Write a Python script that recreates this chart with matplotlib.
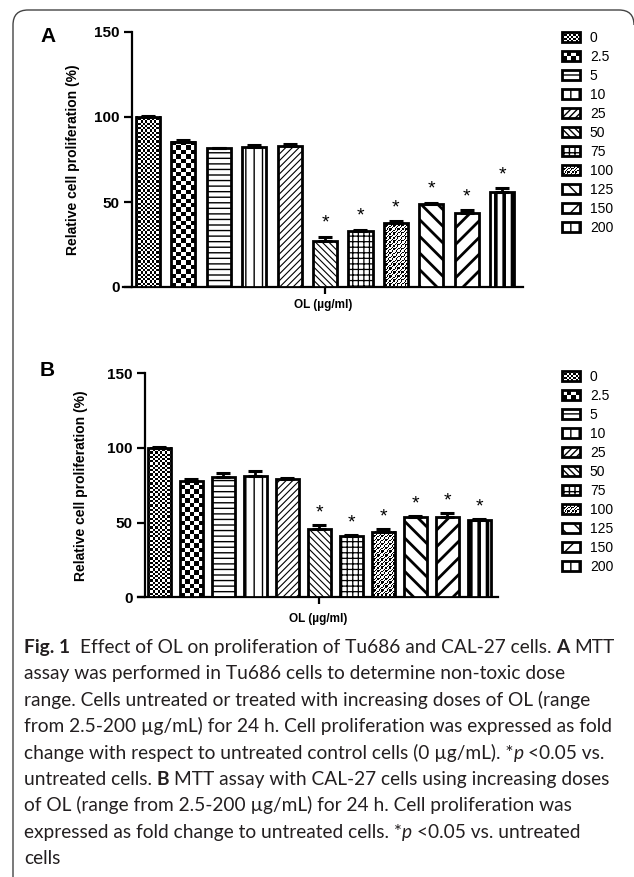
import numpy as np
import matplotlib
matplotlib.use('Agg')
import matplotlib.pyplot as plt
from matplotlib.patches import Patch, PathPatch, Rectangle
from matplotlib.path import Path
from matplotlib.legend_handler import HandlerBase

# data
doses = ['0', '2.5', '5', '10', '25', '50', '75', '100', '125', '150', '200']
prolif_a = [100, 85.5, 81.5, 82.5, 83, 27, 33, 37.5, 49, 43.5, 56]
err_a = [0.8, 1.0, 0.4, 1.2, 1.2, 2.5, 0.8, 1.2, 0.5, 1.5, 2.0]
signif_a = [False, False, False, False, False, True, True, True, True, True, True]
prolif_b = [100, 78, 80.5, 81.5, 79, 45.5, 41, 44, 53.5, 54, 51.5]
err_b = [0.5, 1.5, 3.0, 3.0, 1.2, 3.0, 0.5, 2.0, 0.8, 2.7, 1.2]
signif_b = [False, False, False, False, False, True, True, True, True, True, True]

# fill style per dose: matplotlib hatch string, or a bitmap pattern ('check', 'weave')
fills = ['check', 'check', '---', '||', '/////', '\\\\\\\\\\', '+++', 'weave', '\\\\', '//', '||']
cell_px = [2.2, 4.4, 0, 0, 0, 0, 0, 1.3, 0, 0, 0]
hatch_lw = [0.8, 2.4, 1.0, 1.0, 0.8, 0.8, 0.9, 0.8, 2.0, 2.0, 2.6]
BITMAPS = ('check', 'weave')

W, H = 634, 877
fig = plt.figure(figsize=(W / 100, H / 100), dpi=100)
plt.rcParams['font.family'] = ['Liberation Sans', 'DejaVu Sans']


def px(x, y):
    # pixel (from top-left) -> figure fraction
    return x / W, 1 - y / H


def bitmap(kind, ny, nx):
    r, c = np.indices((ny, nx))
    if kind == 'check':
        return ((r + c) % 2 == 0).astype(float)
    return (((c - r) % 3 == 0) | (((c + r) % 6 == 0) & ((c - r) % 6 < 3))).astype(float)


def hatched(factory, hatch, lw):
    with plt.rc_context({'hatch.linewidth': lw}):
        art = factory(hatch)
        try:
            art.set_hatch_linewidth(lw)
        except AttributeError:
            pass
    return art


def bitmap_bar(ax, kind, xc, h, w, cell):
    p0 = ax.transData.transform((xc - w / 2, 0))
    p1 = ax.transData.transform((xc + w / 2, h))
    nx = max(1, int(round((p1[0] - p0[0]) / cell)))
    ny = max(1, int(round((p1[1] - p0[1]) / cell)))
    ax.imshow(bitmap(kind, ny, nx), extent=(xc - w / 2, xc + w / 2, 0, h), cmap='gray_r',
              vmin=0, vmax=1, origin='lower', interpolation='nearest', aspect='auto', zorder=3)


class HandlerBitmap(HandlerBase):
    def __init__(self, kind, cell):
        super().__init__()
        self.kind = kind
        self.cell = cell

    def create_artists(self, legend, orig_handle, xdescent, ydescent, width, height, fontsize, trans):
        nx = max(1, int(round(width / self.cell)))
        ny = max(1, int(round(height / self.cell)))
        cw, ch = width / nx, height / ny
        img = bitmap(self.kind, ny, nx)
        arts = []
        for r in range(ny):
            for c in range(nx):
                if img[r, c]:
                    arts.append(Rectangle((-xdescent + c * cw, -ydescent + r * ch), cw, ch,
                                          facecolor='black', edgecolor='none', transform=trans))
        arts.append(Rectangle((-xdescent, -ydescent), width, height, facecolor='none',
                              edgecolor='black', linewidth=2.0, transform=trans))
        return arts


def draw_panel(rect, values, errs, sig, xlim, yspine, bar_w, ylab_x, xlab_y):
    ax = fig.add_axes(rect)
    ax.set_xlim(*xlim)
    ax.set_ylim(0, 150)
    x = np.arange(len(values))
    for i in x:
        if fills[i] in BITMAPS:
            bitmap_bar(ax, fills[i], x[i], values[i], bar_w, cell_px[i])
            ax.bar(x[i], values[i], width=bar_w, facecolor='none', edgecolor='black',
                   linewidth=2.0, zorder=3.5)
        else:
            hatched(lambda h: ax.bar(x[i], values[i], width=bar_w, facecolor='white',
                                     edgecolor='black', linewidth=2.0, hatch=h, zorder=3)[0],
                    fills[i], hatch_lw[i])
        ax.errorbar(x[i], values[i], yerr=[[0], [errs[i]]], fmt='none', ecolor='black',
                    elinewidth=2, capsize=5, capthick=2.2, zorder=4)
        if sig[i]:
            ax.text(x[i], values[i] + errs[i] + 8, '*', ha='center', va='center', fontsize=14)
    ax.set_xlim(*xlim)
    ax.set_ylim(0, 150)
    ax.set_yticks([0, 50, 100, 150])
    ax.set_xticks([5])
    ax.set_xticklabels([''])
    for s in ['top', 'right']:
        ax.spines[s].set_visible(False)
    ax.spines['left'].set_position(('data', yspine))
    ax.spines['left'].set_linewidth(1.6)
    ax.spines['bottom'].set_linewidth(1.6)
    ax.tick_params(axis='y', length=6, width=1.6, labelsize=11, pad=3)
    ax.tick_params(axis='x', length=5, width=1.6)
    for t in ax.get_yticklabels():
        t.set_fontweight('bold')
    ax.set_ylabel('Relative cell proliferation (%)', fontsize=10, fontweight='bold')
    ax.yaxis.set_label_coords(ylab_x, 0.5)
    ax.set_xlabel('OL (µg/ml)', fontsize=8.5, fontweight='bold')
    ax.xaxis.set_label_coords(0.5, xlab_y)
    ax.patch.set_visible(False)
    return ax


ax_a = draw_panel([123 / W, 1 - 287 / H, 400 / W, 255 / H], prolif_a, err_a, signif_a,
                  (-0.706, 10.59), -0.45, 0.68, -0.1075, -0.047)
ax_b = draw_panel([138 / W, 1 - 597.3 / H, 360 / W, 224 / H], prolif_b, err_b, signif_b,
                  (-0.67, 10.58), -0.45, 0.72, -0.139, -0.07)

fig.text(*px(40, 37), 'A', fontsize=15, fontweight='bold', va='center', ha='left')
fig.text(*px(40, 371), 'B', fontsize=15, fontweight='bold', va='center', ha='left')

# legends
for top in [31, 370]:
    handles, hmap = [], {}
    for i, d in enumerate(doses):
        if fills[i] in BITMAPS:
            p = Patch(facecolor='white', edgecolor='black', linewidth=2.0)
            hmap[p] = HandlerBitmap(fills[i], cell_px[i] * 0.72)
        else:
            p = hatched(lambda h: Patch(facecolor='white', edgecolor='black',
                                        linewidth=2.0, hatch=h), fills[i], hatch_lw[i] * 0.6)
        handles.append(p)
    fig.legend(handles=handles, labels=doses, handler_map=hmap, loc='upper left',
               bbox_to_anchor=px(562, top), frameon=False, fontsize=10, handlelength=1.3,
               handleheight=0.72, handletextpad=0.7, labelspacing=0.36, borderpad=0,
               borderaxespad=0)

# frame of the figure box
verts = [px(13, 890), px(13, 25), px(13, 10), px(28, 10), px(619, 10), px(634, 10), px(634, 25)]
codes = [Path.MOVETO, Path.LINETO, Path.CURVE3, Path.CURVE3, Path.LINETO, Path.CURVE3, Path.CURVE3]
fig.add_artist(PathPatch(Path(verts, codes), transform=fig.transFigure, fill=False,
                         edgecolor='#444444', linewidth=1.0))

# caption
N, B, I = ('normal', 'normal'), ('bold', 'normal'), ('normal', 'italic')
caption = [
    [('Fig. 1', B, 0), ('Effect of OL on proliferation of Tu686 and CAL-27 cells.', N, 2), ('A', B, 1), ('MTT', N, 1)],
    [('assay was performed in Tu686 cells to determine non-toxic dose', N, 0)],
    [('range. Cells untreated or treated with increasing doses of OL (range', N, 0)],
    [('from 2.5-200 µg/mL) for 24 h. Cell proliferation was expressed as fold', N, 0)],
    [('change with respect to untreated control cells (0 µg/mL). *', N, 0), ('p', I, 0), ('<0.05 vs.', N, 1)],
    [('untreated cells.', N, 0), ('B', B, 1), ('MTT assay with CAL-27 cells using increasing doses', N, 1)],
    [('of OL (range from 2.5-200 µg/mL) for 24 h. Cell proliferation was', N, 0)],
    [('expressed as fold change to untreated cells. *', N, 0), ('p', I, 0), ('<0.05 vs. untreated', N, 1)],
    [('cells', N, 0)],
]
cap_font = ['Lato', 'DejaVu Sans']
renderer = fig.canvas.get_renderer()
probe = fig.text(0, 0, caption[3][0][0], fontsize=10, family=cap_font)
cap_size = 10 * 588 / probe.get_window_extent(renderer).width
probe.remove()
sp = fig.text(0, 0, 'a a', fontsize=cap_size, family=cap_font)
sp2 = fig.text(0, 0, 'aa', fontsize=cap_size, family=cap_font)
space_w = sp.get_window_extent(renderer).width - sp2.get_window_extent(renderer).width
sp.remove()
sp2.remove()

for li, line in enumerate(caption):
    xpos = 24
    ybase = 653 + 26.4 * li
    for text, (weight, style), gap in line:
        xpos += gap * space_w
        t = fig.text(*px(xpos, ybase), text, fontsize=cap_size, family=cap_font,
                     fontweight=weight, fontstyle=style, color='#231f20',
                     ha='left', va='baseline')
        xpos += t.get_window_extent(renderer).width

fig.savefig('out.png', dpi=100)
